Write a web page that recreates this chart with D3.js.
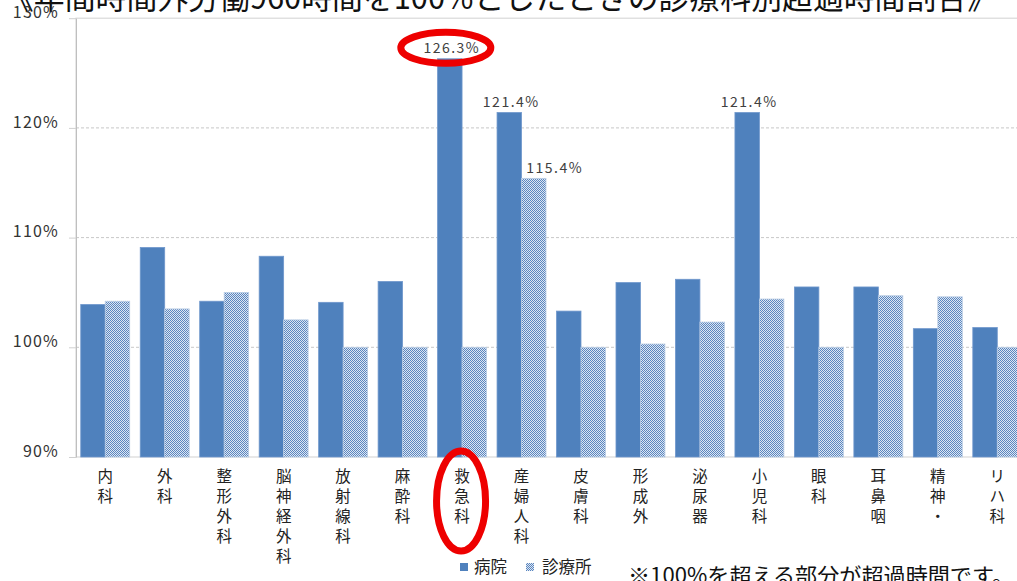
<!DOCTYPE html>
<html><head><meta charset="utf-8">
<script src="https://cdn.jsdelivr.net/npm/d3@7"></script>
<style>
html,body{margin:0;padding:0;background:#fff;overflow:hidden}
svg{display:block}
text{font-family:"Noto Sans CJK JP","Noto Sans",sans-serif}
</style></head>
<body>
<svg id="c" width="1017" height="581"></svg>
<script>
const titleText = "《年間時間外労働960時間を100%としたときの診療科別超過時間割合》";
const noteText = "※100%を超える部分が超過時間です。";
const categories = ["内科","外科","整形外科","脳神経外科","放射線科","麻酔科","救急科","産婦人科","皮膚科","形成外","泌尿器","小児科","眼科","耳鼻咽","精神・","リハ科"];
const seriesNames = ["病院","診療所"];
const hospital = [103.9,109.1,104.2,108.3,104.1,106.0,126.3,121.4,103.3,105.9,106.2,121.4,105.5,105.5,101.7,101.8];
const clinic   = [104.2,103.5,105.0,102.5,100.0,100.0,100.0,115.4,100.0,100.3,102.3,104.4,100.0,104.7,104.6,100.0];
const yTicks = [90,100,110,120,130];
const labelled = [{s:0,i:6},{s:0,i:7},{s:1,i:7},{s:0,i:11}];
const labelShift = {"1-7": 19};

const svg = d3.select("#c");
const defs = svg.append("defs");
const pat = defs.append("pattern").attr("id","chk").attr("width",2).attr("height",2).attr("patternUnits","userSpaceOnUse");
pat.append("rect").attr("width",2).attr("height",2).attr("fill","#dde6f2");
pat.append("rect").attr("x",0).attr("y",0).attr("width",1).attr("height",1).attr("fill","#5a86c0");
pat.append("rect").attr("x",1).attr("y",1).attr("width",1).attr("height",1).attr("fill","#5a86c0");

const left = 75.5, step = 59.47;
const x = d3.scaleBand().domain(categories).range([left, left + step*categories.length]).paddingInner(0.177).paddingOuter(0.0885);
const xs = d3.scaleBand().domain(seriesNames).range([0, x.bandwidth()]);
const y = d3.scaleLinear().domain([90,130]).range([457, 18.2]);
const fills = ["#4f81bd","url(#chk)"];

// title (top half clipped)
svg.append("text").attr("x",3).attr("y",9).attr("font-size",32).attr("fill","#111")
  .attr("textLength",995).attr("lengthAdjust","spacingAndGlyphs").text(titleText);

// plot border
svg.append("rect").attr("x",76).attr("y",y(130)).attr("width",1100).attr("height",y(90)-y(130))
  .attr("fill","none").attr("stroke","#d9d9d9").attr("stroke-width",1.2);
// gridlines
svg.append("g").selectAll("line").data(yTicks.filter(t=>t>90 && t<130)).join("line")
  .attr("x1",76).attr("x2",1017).attr("y1",d=>y(d)).attr("y2",d=>y(d))
  .attr("stroke","#c8c8c8").attr("stroke-dasharray","3,2");

// y axis
const ya = svg.append("g").attr("transform","translate(76,0)")
  .call(d3.axisLeft(y).tickValues(yTicks).tickFormat(d=>d+"%").tickSize(0).tickPadding(17));
ya.select(".domain").attr("stroke","#bfbfbf");
ya.selectAll("text").attr("font-family","'DejaVu Sans',sans-serif").attr("font-size",16).attr("fill","#333")
  .attr("dy","-0.05em").attr("letter-spacing","1.2px");
ya.selectAll(".tick").append("line").attr("x1",-7).attr("x2",0).attr("stroke","#d0d0d0");

// bars
const series = [hospital, clinic];
series.forEach((vals, s) => {
  svg.append("g").selectAll("rect").data(vals).join("rect")
    .attr("x",(d,i)=>x(categories[i]) + xs(seriesNames[s]))
    .attr("width",xs.bandwidth())
    .attr("y",d=>y(d))
    .attr("height",d=>y(90)-y(d))
    .attr("fill",fills[s])
    .attr("stroke", s===0 ? "#6f97cc" : "#b9cce4").attr("stroke-width",0.8);
});

// value labels
svg.append("g").selectAll("text").data(labelled).join("text")
  .attr("x",d=>x(categories[d.i]) + xs(seriesNames[d.s]) + xs.bandwidth()/2 + 2 + (labelShift[d.s+"-"+d.i]||0))
  .attr("y",d=>y(series[d.s][d.i]) - 5.5)
  .attr("text-anchor","middle").attr("font-family","'DejaVu Sans',sans-serif").attr("font-size",14)
  .attr("letter-spacing","1.5px").attr("fill","#404040")
  .text(d=>series[d.s][d.i].toFixed(1)+"%");

// x labels (vertical)
const xl = svg.append("g");
categories.forEach(c => {
  const cx = x(c) + x.bandwidth()/2;
  Array.from(c).forEach((ch,k) => {
    xl.append("text").attr("x",cx).attr("y",482 + k*20).attr("text-anchor","middle")
      .attr("font-size",15.5).attr("fill","#222").text(ch);
  });
});

// red annotation ellipses
const eg = svg.append("g").attr("fill","none").attr("stroke","#ee0000").attr("stroke-width",7);
const ei = categories.indexOf("救急科");
eg.append("ellipse").attr("cx",x(categories[ei]) + xs("病院") + xs.bandwidth()/2 - 4)
  .attr("cy",y(hospital[ei]) - 11).attr("rx",45).attr("ry",15.5);
eg.append("ellipse").attr("cx",x(categories[ei]) + x.bandwidth()/2 - 1)
  .attr("cy",501).attr("rx",24.5).attr("ry",50);

// legend
const lg = svg.append("g");
lg.append("rect").attr("x",460).attr("y",563).attr("width",8).attr("height",8).attr("fill",fills[0]);
lg.append("text").attr("x",474).attr("y",573).attr("font-size",16.5).attr("fill","#222").text(seriesNames[0]);
lg.append("rect").attr("x",526).attr("y",563).attr("width",8).attr("height",8).attr("fill",fills[1]);
lg.append("text").attr("x",542).attr("y",573).attr("font-size",16.5).attr("fill","#222").text(seriesNames[1]);

// note
svg.append("text").attr("x",628).attr("y",583).attr("font-size",21).attr("fill","#111")
  .attr("textLength",386).attr("lengthAdjust","spacingAndGlyphs").text(noteText);
</script>
</body></html>
